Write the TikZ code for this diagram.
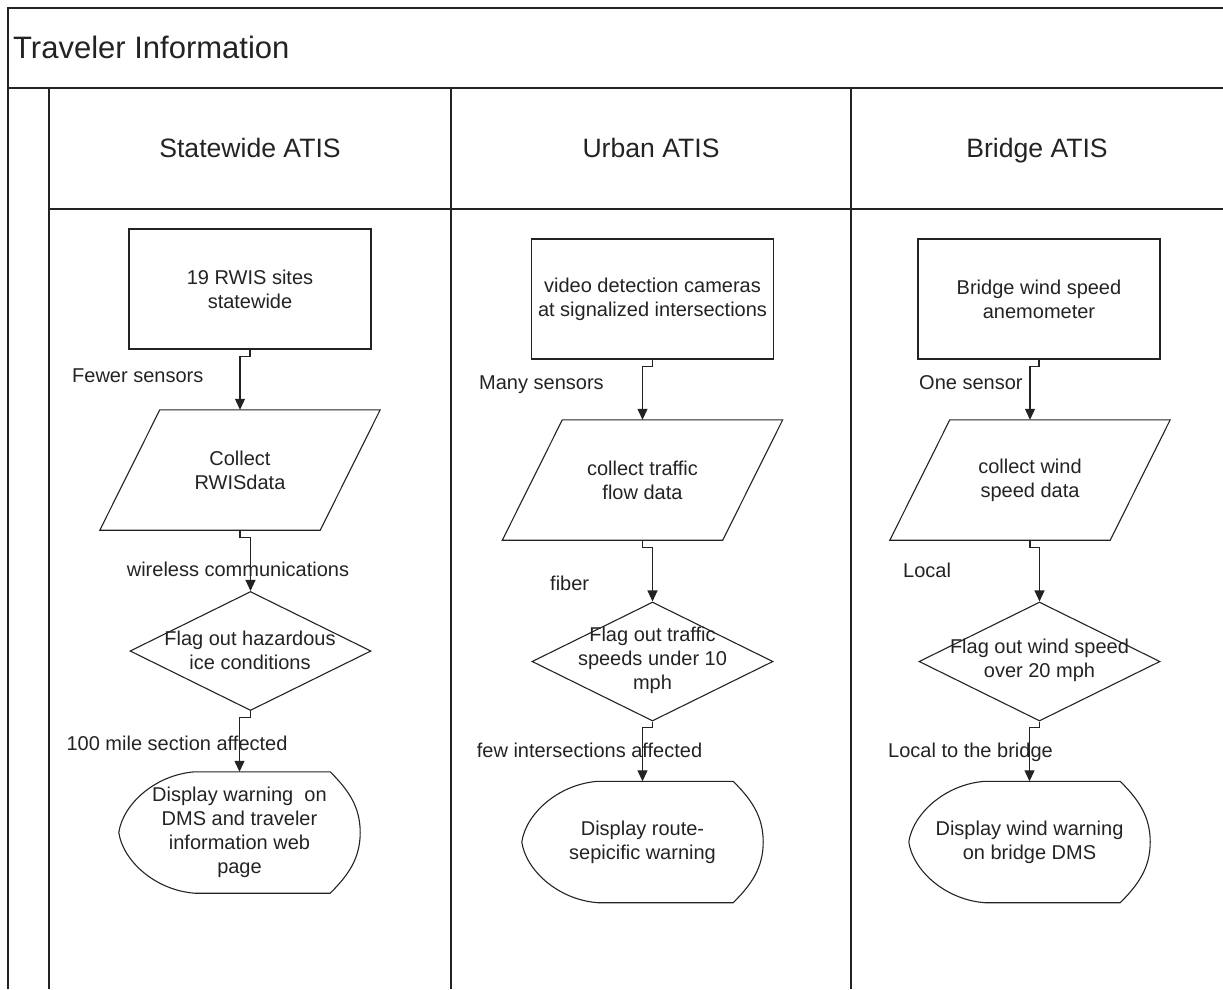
\documentclass[tikz,border=0pt]{standalone}
\usepackage{fontspec}
\setmainfont{Liberation Sans}
\usetikzlibrary{calc,arrows.meta,shapes.geometric}
\definecolor{ink}{RGB}{35,35,35}
\newcommand\parashape[1]{%
  \draw[shapeline] ($(#1.north west)+(30,0)$) -- ($(#1.north east)+(30,0)$)
    -- ($(#1.south east)+(-30,0)$) -- ($(#1.south west)+(-30,0)$) -- cycle;}
\newcommand\dispshape[1]{%
  \draw[shapeline] ($(#1.north west)+(76,0)$) -- ($(#1.north east)+(-30,0)$)
    .. controls ($(#1.north east)+(-12,18)$) and ($(#1.east)+(0,-26)$) .. (#1.east)
    .. controls ($(#1.east)+(0,26)$) and ($(#1.south east)+(-12,-18)$) .. ($(#1.south east)+(-30,0)$)
    -- ($(#1.south west)+(76,0)$)
    .. controls ($(#1.south west)+(36,-3)$) and ($(#1.west)+(4,28)$) .. (#1.west)
    .. controls ($(#1.west)+(4,-28)$) and ($(#1.north west)+(36,3)$) .. ($(#1.north west)+(76,0)$) -- cycle;}
\begin{document}
\begin{tikzpicture}[x=1pt,y=-1pt,
  every node/.style={text=ink, font=\fontsize{20}{24}\selectfont, inner sep=0pt},
  frame/.style={draw=ink, line width=1.8pt},
  shapeline/.style={draw=ink, line width=1.1pt},
  box/.style={draw=ink, line width=1.1pt, minimum width=242pt, minimum height=120pt, align=center},
  txt/.style={align=center},
  ghost/.style={minimum width=220pt, minimum height=120pt, align=center},
  diam/.style={diamond, draw=ink, line width=1.1pt, minimum width=241pt, minimum height=119pt, aspect=2},
  disp/.style={minimum width=241pt, minimum height=121pt, align=center},
  conn/.style={draw=ink, line width=1.1pt, -{Triangle[length=11pt,width=10pt]}},
  title/.style={font=\fontsize{31}{36}\selectfont},
  lanehead/.style={font=\fontsize{26.6}{30}\selectfont},
]
\useasboundingbox (0,0) rectangle (1223,989);

% frame
\draw[frame] (8,989) -- (8,8) -- (1223,8);
\draw[frame] (8,88) -- (1223,88);
\draw[frame] (49,88) -- (49,989);
\draw[frame] (451,88) -- (451,989);
\draw[frame] (851,88) -- (851,989);
\draw[frame] (49,209) -- (1223,209);

\node[title, anchor=base west] (ttl) at (13,58) {Traveler Information};
\node[lanehead, anchor=base] (h1) at (250,157) {Statewide ATIS};
\node[lanehead, anchor=base] (h2) at (651,157) {Urban ATIS};
\node[lanehead, anchor=base] (h3) at (1037,157) {Bridge ATIS};

% column 1
\node[box] (r1) at (250,289) {19 RWIS sites\\statewide};
\node[ghost] (p1) at (240,470) {Collect\\RWISdata};
\parashape{p1}
\node[diam] (d1) at (250.5,651) {};
\node[txt] (d1t) at (250,650) {Flag out hazardous\\ice conditions};
\node[disp] (s1) at (239.5,832.5) {Display warning~ on\\DMS and traveler\\information web\\page};
\dispshape{s1}
\draw[conn] (r1.south) -- ++(0,7) -| (p1.north);
\draw[conn] (p1.south) -- ++(0,7) -| (d1.north);
\draw[conn] (d1.south) -- ++(0,6) -| (s1.north);
\node[anchor=base west] (l1) at (72,382) {Fewer sensors};
\node[anchor=base] (l2) at (238,576) {wireless communications};
\node[anchor=base] (l3) at (177,750) {100 mile section affected};

% column 2
\node[box] (r2) at (652.5,299) {video detection cameras\\at signalized intersections};
\node[ghost] (p2) at (642.5,480) {collect traffic\\flow data};
\parashape{p2}
\node[diam] (d2) at (652.5,661.5) {};
\node[txt] (d2t) at (652.5,660.5) {Flag out traffic\\speeds under 10\\mph};
\node[disp] (s2) at (642.5,842) {Display route-\\sepicific warning};
\dispshape{s2}
\draw[conn] (r2.south) -- ++(0,7) -| (p2.north);
\draw[conn] (p2.south) -- ++(0,7) -| (d2.north);
\draw[conn] (d2.south) -- ++(0,6) -| (s2.north);
\node[anchor=base west] (l4) at (479,389) {Many sensors};
\node[anchor=base west] (l5) at (550,590) {fiber};
\node[anchor=base] (l6) at (589.5,757) {few intersections affected};

% column 3
\node[box] (r3) at (1039,299) {Bridge wind speed\\anemometer};
\node[ghost] (p3) at (1030,480) {collect wind\\speed data};
\parashape{p3}
\node[diam] (d3) at (1039.5,661.5) {};
\node[txt] (d3t) at (1039.5,660) {Flag out wind speed\\over 20 mph};
\node[disp] (s3) at (1029.5,842) {Display wind warning\\on bridge DMS};
\dispshape{s3}
\draw[conn] (r3.south) -- ++(0,7) -| (p3.north);
\draw[conn] (p3.south) -- ++(0,7) -| (d3.north);
\draw[conn] (d3.south) -- ++(0,6) -| (s3.north);
\node[anchor=base west] (l7) at (919,389) {One sensor};
\node[anchor=base west] (l8) at (903,577) {Local};
\node[anchor=base] (l9) at (970.5,757) {Local to the bridge};
\end{tikzpicture}
\end{document}
